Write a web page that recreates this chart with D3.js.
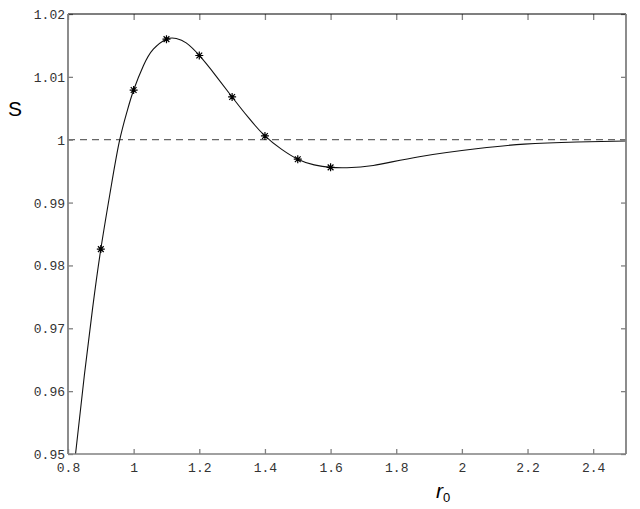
<!DOCTYPE html>
<html>
<head>
<meta charset="utf-8">
<script src="https://cdn.jsdelivr.net/npm/d3@7"></script>
<style>
html,body{margin:0;padding:0;background:#fff;}
svg{display:block;}
</style>
</head>
<body>
<svg id="chart" width="640" height="509"></svg>
<script>
// Data
const curveX = [0.823, 0.85, 0.875, 0.9, 0.93, 0.956, 0.98, 1.0, 1.03, 1.06, 1.1, 1.13, 1.16, 1.2, 1.25, 1.3, 1.35, 1.4, 1.45, 1.5, 1.55, 1.6, 1.65, 1.73, 1.87, 2.05, 2.19, 2.35, 2.5];
const curveY = [0.95, 0.9626, 0.9732, 0.9826, 0.9921, 0.9996, 1.0045, 1.0079, 1.0118, 1.0144, 1.0160, 1.0161, 1.0154, 1.0134, 1.0102, 1.0068, 1.0035, 1.0006, 0.9985, 0.9969, 0.9960, 0.9956, 0.99555, 0.9959, 0.9973, 0.9986, 0.9993, 0.99964, 0.9998];
const markerX = [0.9, 1.0, 1.1, 1.2, 1.3, 1.4, 1.5, 1.6];
const markerY = [0.9826, 1.0079, 1.0160, 1.0134, 1.0068, 1.0006, 0.9969, 0.9956];
const xTicks = [0.8, 1, 1.2, 1.4, 1.6, 1.8, 2, 2.2, 2.4];
const yTicks = [0.95, 0.96, 0.97, 0.98, 0.99, 1, 1.01, 1.02];
const refLine = 1;

const svg = d3.select("#chart");
const L = 68, R = 626, T = 14, B = 454;
const x = d3.scaleLinear().domain([0.8, 2.5]).range([L, R]);
const y = d3.scaleLinear().domain([0.95, 1.02]).range([B, T]);

const axisColor = "#808080";
const fmt = d => String(+d.toFixed(2));

// reference dashed line
svg.append("line")
  .attr("x1", x(0.8)).attr("x2", x(2.5))
  .attr("y1", y(refLine)).attr("y2", y(refLine))
  .attr("stroke", "#666").attr("stroke-width", 1.2)
  .attr("stroke-dasharray", "7,5");

// curve
const pts = curveX.map((v, i) => [v, curveY[i]]);
svg.append("path")
  .datum(pts)
  .attr("fill", "none")
  .attr("stroke", "#111")
  .attr("stroke-width", 1.1)
  .attr("d", d3.line().x(d => x(d[0])).y(d => y(d[1])).curve(d3.curveNatural));

// markers (asterisk)
const s = 4;
const star = `M${-s},0L${s},0M0,${-s}L0,${s}M${-s*0.72},${-s*0.72}L${s*0.72},${s*0.72}M${-s*0.72},${s*0.72}L${s*0.72},${-s*0.72}`;
svg.append("g").selectAll("path")
  .data(markerX.map((v, i) => [v, markerY[i]]))
  .join("path")
  .attr("transform", d => `translate(${x(d[0])},${y(d[1])})`)
  .attr("d", star)
  .attr("stroke", "#000").attr("stroke-width", 1.2).attr("fill", "none");

// axes: bottom with labels, top/right/left ticks inward
const gBottom = svg.append("g").attr("transform", `translate(0,${B})`)
  .call(d3.axisBottom(x).tickValues(xTicks).tickFormat(fmt).tickSize(-5).tickPadding(9));
const gTop = svg.append("g").attr("transform", `translate(0,${T})`)
  .call(d3.axisTop(x).tickValues(xTicks).tickFormat("").tickSize(-6));
const gLeft = svg.append("g").attr("transform", `translate(${L},0)`)
  .call(d3.axisLeft(y).tickValues(yTicks).tickFormat(fmt).tickSize(-5).tickPadding(3));
const gRight = svg.append("g").attr("transform", `translate(${R},0)`)
  .call(d3.axisRight(y).tickValues(yTicks).tickFormat("").tickSize(-5));

[gBottom, gTop, gLeft, gRight].forEach(g => {
  g.select(".domain").remove();
  g.selectAll(".tick line").attr("stroke", axisColor).attr("stroke-width", 1.3);
  g.selectAll(".tick text")
    .attr("fill", "#333")
    .style("font-family", "'Liberation Mono', 'DejaVu Sans Mono', monospace")
    .style("font-size", "13px");
});
gLeft.selectAll(".tick text").attr("dy", "0.35em");

// frame
svg.append("line").attr("x1", L).attr("x2", R).attr("y1", T).attr("y2", T)
  .attr("stroke", "#000").attr("stroke-width", 1.2);
svg.append("line").attr("x1", L).attr("x2", R).attr("y1", B).attr("y2", B)
  .attr("stroke", axisColor).attr("stroke-width", 1.6);
svg.append("line").attr("x1", L).attr("x2", L).attr("y1", T).attr("y2", B)
  .attr("stroke", axisColor).attr("stroke-width", 1.8);
svg.append("line").attr("x1", R).attr("x2", R).attr("y1", T).attr("y2", B)
  .attr("stroke", axisColor).attr("stroke-width", 1.8);

// axis labels
svg.append("text").attr("x", 15).attr("y", 116).attr("text-anchor", "middle")
  .style("font-family", "'Liberation Sans', Arial, sans-serif").style("font-size", "21px")
  .attr("fill", "#000").text("S");
const xl = svg.append("text").attr("x", 436).attr("y", 498)
  .style("font-family", "'Liberation Sans', Arial, sans-serif").attr("fill", "#000");
xl.append("tspan").style("font-size", "21px").style("font-style", "italic").text("r");
xl.append("tspan").style("font-size", "13px").attr("dy", 4).text("0");
</script>
</body>
</html>
